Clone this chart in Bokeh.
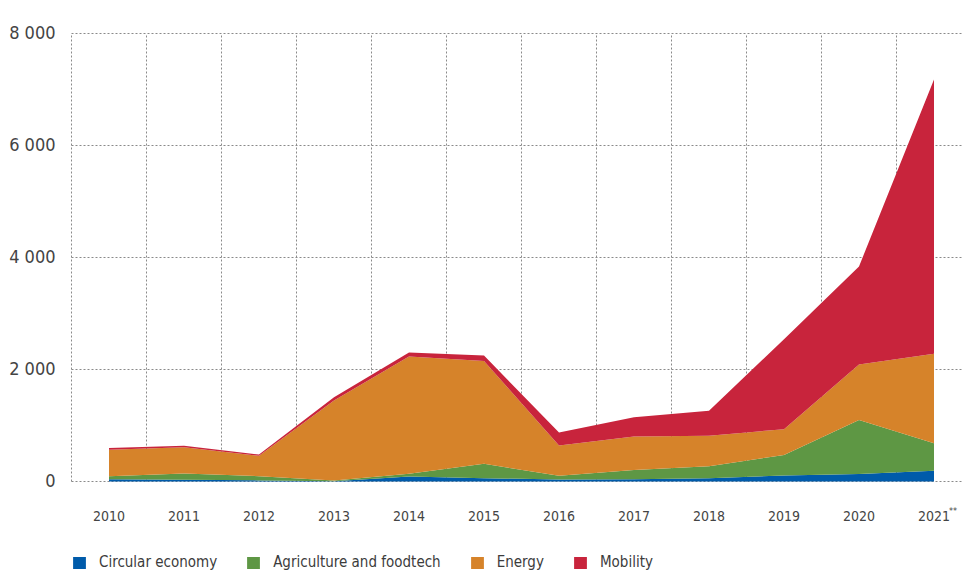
from bokeh.plotting import figure
from bokeh.models import ColumnDataSource, Range1d, Legend, LegendItem
from bokeh.core.properties import value
from bokeh.embed import file_html
from bokeh.resources import INLINE

# ---------------- data ----------------
years = [2010, 2011, 2012, 2013, 2014, 2015, 2016, 2017, 2018, 2019, 2020, 2021]
year_labels = ["2010", "2011", "2012", "2013", "2014", "2015", "2016", "2017", "2018", "2019", "2020", "2021"]
circular = [40, 30, 20, 5, 90, 60, 35, 40, 60, 105, 135, 190]
agri = [55, 113, 75, 15, 47, 255, 66, 165, 212, 367, 965, 495]
energy = [471, 470, 363, 1426, 2095, 1835, 542, 599, 543, 463, 989, 1595]
mobility = [34, 24, 24, 60, 72, 100, 232, 345, 447, 1605, 1751, 4900]
series_names = ["Circular economy", "Agriculture and foodtech", "Energy", "Mobility"]
colors = ["#005BAA", "#5E9744", "#D6832A", "#C8243C"]
y_ticks = [0, 2000, 4000, 6000, 8000]
y_tick_labels = ["0", "2 000", "4 000", "6 000", "8 000"]
footnote_mark = "**"

# ---------------- layout (pixels) ----------------
W, H = 962, 573
PLOT_LEFT_PX = 71      # pixel of left plot edge (year boundary before first year)
ZERO_PX = 481          # pixel row of value 0
TOP_PX = 33            # pixel row of top tick
PX_PER_YEAR = 75.0
px_per_unit = (ZERO_PX - TOP_PX) / y_ticks[-1]

grid_left = years[0] - 0.5
x_start = grid_left - PLOT_LEFT_PX / PX_PER_YEAR
x_end = x_start + W / PX_PER_YEAR
y_start = -(H - ZERO_PX) / px_per_unit
y_end = y_ticks[-1] + TOP_PX / px_per_unit

FONT = "'DejaVu Sans Condensed', 'Liberation Sans Narrow', sans-serif"
TXT = "#444444"
GRID = "#8a8a8a"

source = ColumnDataSource(dict(year=years, circular=circular, agri=agri,
                               energy=energy, mobility=mobility))
keys = ["circular", "agri", "energy", "mobility"]

p = figure(width=W, height=H, output_backend="svg", toolbar_location=None,
           x_range=Range1d(x_start, x_end), y_range=Range1d(y_start, y_end),
           x_axis_type=None, y_axis_type=None, min_border=0)
p.outline_line_color = None
p.background_fill_color = "white"
p.border_fill_color = "white"
p.grid.visible = False

# ---------------- grid (dotted) ----------------
n_h = len(y_ticks)
p.segment(x0=[grid_left] * n_h, y0=y_ticks, x1=[x_end] * n_h, y1=y_ticks,
          line_color=GRID, line_dash="2 2", line_width=1)
bounds = [y - 0.5 for y in years]
n_v = len(bounds)
p.segment(x0=bounds, y0=[y_ticks[0]] * n_v, x1=bounds, y1=[y_ticks[-1]] * n_v,
          line_color=GRID, line_dash="2 2", line_width=1)

# ---------------- stacked areas ----------------
renderers = p.varea_stack(stackers=keys, x="year", source=source, color=colors)

# ---------------- tick labels ----------------
p.text(x=[grid_left] * n_h, y=y_ticks, text=y_tick_labels,
       x_offset=-16, y_offset=-1, text_align="right", text_baseline="alphabetic",
       text_font=value(FONT), text_font_size="18px", text_color=TXT)

p.text(x=years, y=[0] * len(years), text=year_labels,
       y_offset=34, text_align="center", text_baseline="middle",
       text_font=value(FONT), text_font_size="14px", text_color=TXT)

p.text(x=[years[-1]], y=[0], text=[footnote_mark],
       x_offset=15, y_offset=24, text_align="left", text_baseline="top",
       text_font=value(FONT), text_font_size="9px", text_color=TXT)

# ---------------- legend ----------------
legend = Legend(items=[LegendItem(label=n, renderers=[r]) for n, r in zip(series_names, renderers)],
                orientation="horizontal", location=(PLOT_LEFT_PX, 2),
                glyph_width=16, glyph_height=15, label_height=15, label_standoff=12, spacing=28,
                padding=0, margin=0, border_line_color=None, background_fill_alpha=0,
                label_text_font=FONT, label_text_font_size="15px", label_text_color="#3c3c3c")
p.add_layout(legend)

open("out.html", "w").write(file_html(p, INLINE))
